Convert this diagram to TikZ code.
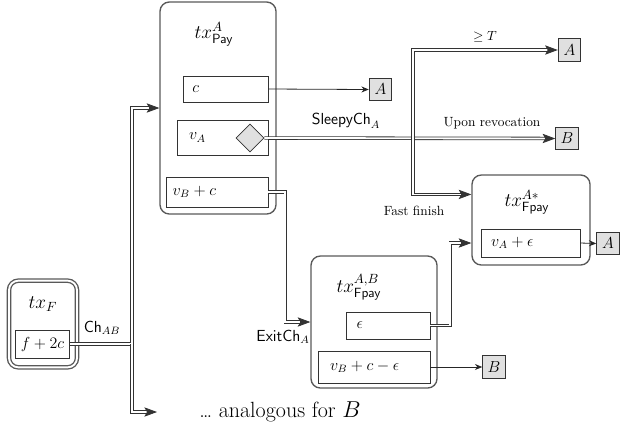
\documentclass[tikz,border=0pt]{standalone}
\usepackage{tikz}
\usetikzlibrary{calc,arrows.meta,shapes.geometric}
\tikzset{
  txbox/.style={draw=black!65, line width=1pt, rounded corners=7pt},
  field/.style={draw=black!80, line width=0.6pt, align=left, inner ysep=0pt, font=\large},
  party/.style={draw=black!80, line width=0.6pt, fill=black!12, minimum size=17pt, inner sep=0pt, font=\large},
  dbl/.style={draw=black!80, double=white, double distance=1.4pt, line width=0.6pt},
  big/.style={-{Stealth[length=9.5pt,width=7pt,inset=2pt]}},
  small/.style={-{Stealth[length=5.5pt,width=4.5pt]}, draw=black!85, line width=0.6pt},
}
\begin{document}
\begin{tikzpicture}[x=0.75pt,y=-0.75pt]
			%%%%% START %%%%%
			\useasboundingbox (0,0) rectangle (627,430);
			
			% funding tx
			\node[txbox, double, double distance=1.4pt, minimum width=51pt, minimum height=65pt] (txf) at (43,324) {};
			\node (txftitle) at (43,304) {\Large $tx_F$};
			\node[field, minimum width=41pt, minimum height=21pt, inner xsep=1pt] (f2c) at (42.5,344) {$f+2c$};
			
			% payment tx of A
			\node[txbox, minimum width=87pt, minimum height=159pt] (pay) at (218,108) {};
			\node (paytitle) at (214,34) {\Large $tx^{A}_{\mathsf{Pay}}$};
			\node[field, text width=49.75pt, inner xsep=7pt, minimum height=19.5pt] (c) at (225.5,89) {$c$};
			\node[field, text width=50.25pt, inner xsep=9pt, minimum height=26.25pt] (va) at (222.5,137.5) {$v_A$};
			\node[diamond, draw=black!80, line width=0.6pt, fill=black!12, minimum size=21pt, inner sep=0pt] (dia) at (250,138) {};
			\node[field, text width=66.5pt, inner xsep=5pt, minimum height=22.5pt] (vbc) at (217,192) {$v_B+c$};
			
			% fast payment tx A,B
			\node[txbox, minimum width=94.5pt, minimum height=99pt] (fab) at (374,322) {};
			\node (fabtitle) at (359,287) {\Large $tx^{A,B}_{\mathsf{Fpay}}$};
			\node[field, text width=47pt, inner xsep=8pt, minimum height=20.25pt] (eps) at (388,325.5) {$\epsilon$};
			\node[field, text width=66pt, inner xsep=9pt, minimum height=24pt] (vbce) at (374,367) {$v_B+c-\epsilon$};
			
			% fast payment tx A*
			\node[txbox, minimum width=88.5pt, minimum height=67.5pt] (fas) at (531,220) {};
			\node (fastitle) at (527,202) {\Large $tx^{A*}_{\mathsf{Fpay}}$};
			\node[field, text width=59.25pt, inner xsep=7.5pt, minimum height=21pt] (vae) at (530.5,243) {$v_A+\epsilon$};
			
			% outputs
			\node[party] (outa1) at (380.5,89.5) {$A$};
			\node[party] (outb1) at (567,138.5) {$B$};
			\node[party] (outa2) at (569.5,50) {$A$};
			\node[party] (outa3) at (608,243.5) {$A$};
			\node[party] (outb2) at (494,367) {$B$};
			
			% branch points
			\coordinate (br1) at (132,344);
			\coordinate (br2) at (413,138);
			\coordinate (analog) at (157,412);
			
			% double connectors
			\draw[dbl, big] (f2c.east) -- (br1) |- (pay.west);
			\draw[dbl, big] (br1) |- (analog);
			\draw[dbl, big] (dia.east) -- (outb1.west);
			\draw[dbl, big] (br2) |- (outa2.west);
			\draw[dbl, big] (br2) |- ($(fas.north west)!0.22!(fas.south west)$);
			\draw[dbl, big] (vbc.east) -- ++(17,0) |- (fab.west);
			\draw[dbl, big] (eps.east) -- ++(20,0) |- (vae -| fas.west);
			
			% single connectors
			\draw[small] (c.east) -- (outa1.west);
			\draw[small] (vae.east) -- (outa3.west);
			\draw[small] (vbce.east) -- (outb2.west);
			
			% labels
			\node[font=\large] (lch) at (102,328) {$\mathsf{Ch}_{AB}$};
			\node[font=\large] (lexit) at (283,337) {$\mathsf{ExitCh}_{A}$};
			\node[font=\large] (lsleepy) at (346,121) {$\mathsf{SleepyCh}_{A}$};
			\node (lrevoke) at (492,123) {Upon revocation};
			\node (lgeq) at (485,37) {$\geq T$};
			\node (lfast) at (414,211) {Fast finish};
			\node[font=\fontsize{16.5}{18}\selectfont] (lanalog) at (280,412) {\dots\ analogous for $B$};
			
			%%%%% END %%%%%
		\end{tikzpicture}
\end{document}
